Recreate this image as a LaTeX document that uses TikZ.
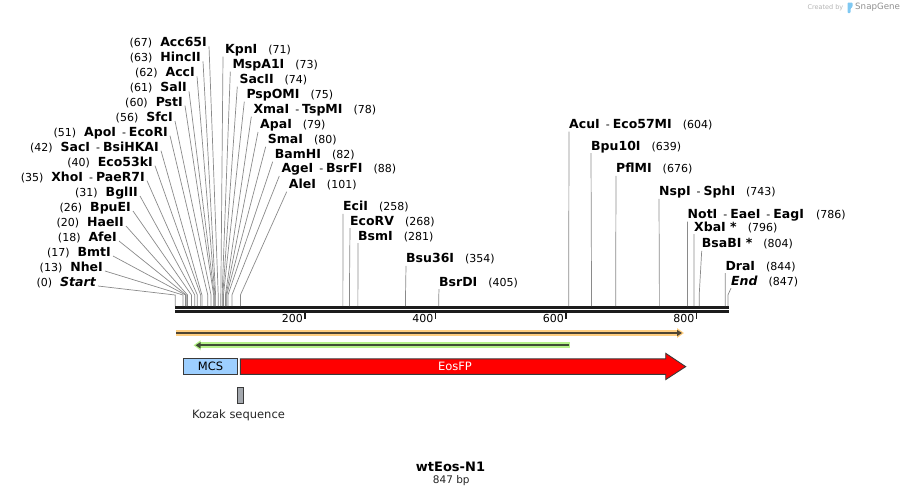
\documentclass[tikz,border=0pt]{standalone}
\usepackage{fontspec}
\setmainfont{DejaVu Sans}
\usetikzlibrary{arrows.meta}

\definecolor{sitegray}{HTML}{8A8A8A}
\definecolor{strand}{HTML}{1C1C1C}
\definecolor{mcsblue}{HTML}{9DCFFF}
\definecolor{eosred}{HTML}{FF0000}
\definecolor{kozakgray}{HTML}{A4A8AE}
\definecolor{edge}{HTML}{3A3A3A}
\definecolor{orangeband}{HTML}{FFCE80}
\definecolor{orangecore}{HTML}{4F4533}
\definecolor{greenband}{HTML}{B6F28A}
\definecolor{greencore}{HTML}{3F4D35}
\definecolor{creditgray}{HTML}{B4B4B4}
\definecolor{logoblue}{HTML}{7FC8F2}

\newcommand{\enz}[1]{{\fontsize{12.5}{14}\selectfont\bfseries #1}}
\newcommand{\andsite}{\hspace{6pt}-\hspace{3pt}}

\tikzset{
  lbl/.style={font=\fontsize{11}{12}\selectfont, inner xsep=2pt, inner ysep=1pt, text height=9pt, text depth=2pt},
  cutline/.style={sitegray, line width=0.7pt},
  strandline/.style={strand, line width=2.6pt},
  tickmark/.style={strand, line width=1.8pt},
  feat/.style={draw=edge, line width=0.9pt, inner sep=0pt, font=\fontsize{11.5}{13}\selectfont},
}

\begin{document}
\begin{tikzpicture}[x=1pt, y=-1pt, declare function={bx(\n)=174.5+0.6526*\n;}]
\useasboundingbox (0,0) rectangle (904,498);

% backbone and ruler
\coordinate (bartop) at (0,306);
\draw[strandline] (175,307.3) -- (729,307.3);
\draw[strandline] (175,311.7) -- (729,311.7);
\foreach \t in {200,400,600,800} {
  \draw[tickmark] ({bx(\t)},312) -- ({bx(\t)},318.5);
  \node (tick\t) [lbl, anchor=east, inner xsep=1pt] at ({bx(\t)-1},319) {\t};
}

% sites left of the fan
\foreach \i/\p/\y/\x/\t in {
  start/1/282/96/{(0)\hspace{8pt}\enz{\itshape Start}},
  nhei/13/267/103/{(13)\hspace{8pt}\enz{NheI}},
  bmti/17/252/111/{(17)\hspace{8pt}\enz{BmtI}},
  afei/18/237/117/{(18)\hspace{8pt}\enz{AfeI}},
  haeii/20/222/124/{(20)\hspace{8pt}\enz{HaeII}},
  bpuei/26/207/131/{(26)\hspace{8pt}\enz{BpuEI}},
  bglii/31/192/138/{(31)\hspace{8pt}\enz{BglII}},
  xhoi/35/176.7/145/{(35)\hspace{8pt}\enz{XhoI}\andsite\enz{PaeR7I}},
  eco53ki/40/161.7/153/{(40)\hspace{8pt}\enz{Eco53kI}},
  saci/42/146.7/159/{(42)\hspace{8pt}\enz{SacI}\andsite\enz{BsiHKAI}},
  apoi/51/131.7/168/{(51)\hspace{8pt}\enz{ApoI}\andsite\enz{EcoRI}},
  sfci/56/117/173/{(56)\hspace{8pt}\enz{SfcI}},
  psti/60/101.7/183/{(60)\hspace{8pt}\enz{PstI}},
  sali/61/87.3/187/{(61)\hspace{8pt}\enz{SalI}},
  acci/62/72.3/195/{(62)\hspace{8pt}\enz{AccI}},
  hincii/63/57.3/201/{(63)\hspace{8pt}\enz{HincII}},
  acc65i/67/42.3/207/{(67)\hspace{8pt}\enz{Acc65I}}
}{
  \node (\i) [lbl, anchor=east] at (\x+2,\y+1) {\t};
  \coordinate (s\i) at ({bx(\p)},295);
  \draw[cutline] ([yshift=-3pt]\i.east) -- (s\i) -- (s\i |- bartop);
}

% sites right of the fan
\foreach \i/\p/\y/\x/\t in {
  kpni/71/49/225/{\enz{KpnI}\hspace{11pt}(71)},
  mspa1i/73/64/232.3/{\enz{MspA1I}\hspace{11pt}(73)},
  sacii/74/79/239.3/{\enz{SacII}\hspace{11pt}(74)},
  pspomi/75/94/246.3/{\enz{PspOMI}\hspace{11pt}(75)},
  xmai/78/109/253.3/{\enz{XmaI}\andsite\enz{TspMI}\hspace{11pt}(78)},
  apai/79/124.3/260/{\enz{ApaI}\hspace{11pt}(79)},
  smai/80/139/267.7/{\enz{SmaI}\hspace{11pt}(80)},
  bamhi/82/154/274.7/{\enz{BamHI}\hspace{11pt}(82)},
  agei/88/168.3/281.3/{\enz{AgeI}\andsite\enz{BsrFI}\hspace{11pt}(88)},
  alei/101/184/288.7/{\enz{AleI}\hspace{11pt}(101)}
}{
  \node (\i) [lbl, anchor=west] at (\x-2,\y+1) {\t};
  \coordinate (s\i) at ({bx(\p)},295);
  \draw[cutline] (\i.south west) -- (s\i) -- (s\i |- bartop);
}

% single sites along the map
\foreach \i/\p/\y/\x/\t in {
  ecii/258/210.7/343/{\enz{EciI}\hspace{11pt}(258)},
  ecorv/268/225/350/{\enz{EcoRV}\hspace{11pt}(268)},
  bsmi/281/240/358/{\enz{BsmI}\hspace{11pt}(281)},
  bsu36i/354/262.7/406/{\enz{Bsu36I}\hspace{11pt}(354)},
  bsrdi/405/286/439/{\enz{BsrDI}\hspace{11pt}(405)},
  acui/604/128.3/569/{\enz{AcuI}\andsite\enz{Eco57MI}\hspace{11pt}(604)},
  bpu10i/639/150/591/{\enz{Bpu10I}\hspace{11pt}(639)},
  pflmi/676/172.7/616/{\enz{PflMI}\hspace{11pt}(676)},
  nspi/743/195.7/659/{\enz{NspI}\andsite\enz{SphI}\hspace{11pt}(743)},
  noti/786/218.3/687.5/{\enz{NotI}\andsite\enz{EaeI}\andsite\enz{EagI}\hspace{12pt}(786)},
  xbai/796/231/694/{\enz{XbaI *}\hspace{11pt}(796)},
  bsabi/804/247.7/701.7/{\enz{BsaBI *}\hspace{11pt}(804)},
  drai/844/270/725.3/{\enz{DraI}\hspace{11pt}(844)},
  endsite/848/285/731/{\enz{\itshape End}\hspace{11pt}(847)}
}{
  \node (\i) [lbl, anchor=base west, inner xsep=0pt] at (\x,\y) {\t};
  \coordinate (s\i) at ({bx(\p)},295);
  \draw[cutline] (\i.south west) -- (s\i) -- (s\i |- bartop);
}

% features
\draw[orangeband, line width=5.7pt, -{Triangle[length=7pt,width=9.5pt]}] (175.5,333) -- (684,333);
\draw[orangecore, line width=1.8pt, -{Triangle[length=5pt,width=6pt]}] (176,333) -- (682,333);
\draw[greenband, line width=5.7pt, -{Triangle[length=7pt,width=9.5pt]}] (569.5,345.3) -- (193.5,345.3);
\draw[greencore, line width=1.8pt, -{Triangle[length=5pt,width=6pt]}] (569,345.3) -- (195.5,345.3);

\node (mcs) [feat, fill=mcsblue, minimum width=53.4pt, minimum height=16pt, anchor=north west] at (183.3,358.3) {MCS};
\draw[draw=edge, line width=0.9pt, fill=eosred] (240.3,358.8) -- (665.7,358.8) -- (665.7,353.3) -- (685.7,366.6)
  -- (665.7,379.6) -- (665.7,374.3) -- (240.3,374.3) -- cycle;
\node (eosfp) [font=\fontsize{11.5}{13}\selectfont, text=white] at (455,366.5) {EosFP};
\node (kozak) [feat, fill=kozakgray, minimum width=6.6pt, minimum height=16.6pt, anchor=north west] at (236.7,386.7) {};
\node (kozaklbl) [font=\fontsize{11.5}{13}\selectfont, text=black!85] at (238.5,415.5) {Kozak sequence};

% title
\node (title) [font=\fontsize{13}{15}\selectfont\bfseries] at (450.5,467) {wtEos-N1};
\node (bplen) [font=\fontsize{10.5}{12}\selectfont, text=black!85] at (451.3,481) {847 bp};

% credit
\node (credit) [anchor=east, inner sep=0pt, text=creditgray, font=\fontsize{6.5}{7}\selectfont] at (843.5,7.5) {Created by};
\fill[logoblue, rounded corners=0.8pt] (847.5,13) -- (847.5,2.5) -- (852.5,2.5) -- (852.5,7) -- (850.5,8.5) -- (850.5,13) -- cycle;
\node (snapgene) [anchor=west, inner sep=0pt, text=creditgray!80!black, font=\fontsize{8.7}{9}\selectfont] at (855,7.5) {SnapGene};
\end{tikzpicture}
\end{document}
